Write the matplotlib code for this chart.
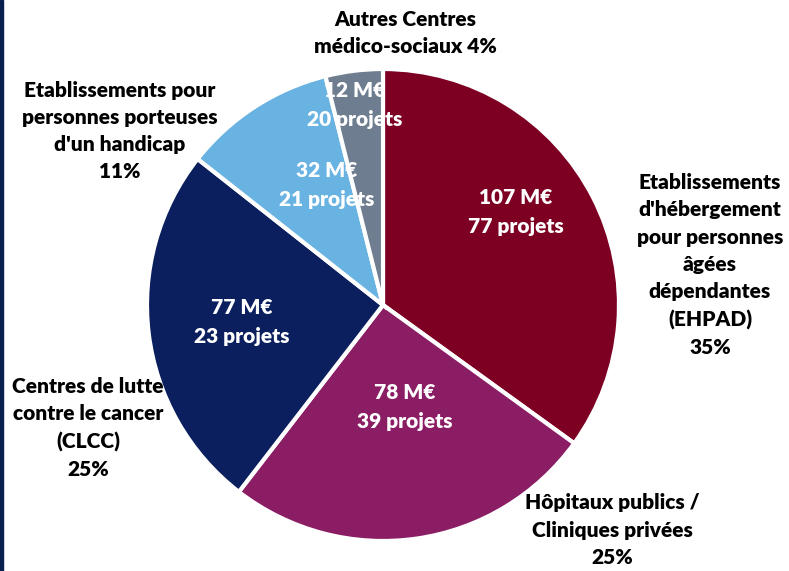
import matplotlib.pyplot as plt
from matplotlib.patches import Rectangle

# Data (M€ and number of projects per category)
categories = ["EHPAD", "Hopitaux", "CLCC", "Handicap", "Autres"]
montants = [107, 78, 77, 32, 12]
projets = [77, 39, 23, 21, 20]
colors = ["#7D0022", "#8A1D63", "#0B1F5E", "#69B3E3", "#6E7D8F"]
outer_labels = [
    "Etablissements\nd'hébergement\npour personnes\nâgées\ndépendantes\n(EHPAD)\n35%",
    "Hôpitaux publics /\nCliniques privées\n25%",
    "Centres de lutte\ncontre le cancer\n(CLCC)\n25%",
    "Etablissements pour\npersonnes porteuses\nd'un handicap\n11%",
    "Autres Centres\nmédico-sociaux 4%",
]

plt.rcParams['font.family'] = ['Lato', 'DejaVu Sans']

W, H = 789, 571
fig = plt.figure(figsize=(W / 100, H / 100), dpi=100)
ax = fig.add_axes([0, 0, 1, 1])

# pie, top-start, clockwise
cx, cy, r = 383, H - 305, 236
ax.pie(montants, colors=colors, startangle=90, counterclock=False,
       center=(cx, cy), radius=r, frame=True,
       wedgeprops=dict(edgecolor='white', linewidth=3))
ax.set_xlim(0, W)
ax.set_ylim(0, H)
ax.set_aspect('equal')
ax.axis('off')

# inner labels (pixel positions from the reference, y from top)
inner_pos = [(516, 212), (405, 407), (242, 322), (327, 185), (355, 105)]
for (x, y), m, p in zip(inner_pos, montants, projets):
    ax.text(x, H - y, f"{m} M€\n{p} projets", ha='center', va='center',
            color='white', fontsize=15, fontweight='heavy', linespacing=1.62)

# outer labels
outer_pos = [(710, 265), (612, 530), (88, 428), (120, 131), (405, 33)]
for (x, y), lab in zip(outer_pos, outer_labels):
    ax.text(x, H - y, lab, ha='center', va='center', color='black',
            fontsize=15, fontweight='heavy', linespacing=1.52)

# left border line
fig.patches.append(Rectangle((0, 0), 3 / W, 1, transform=fig.transFigure,
                             color='#0B1F4E', zorder=10))

fig.savefig('out.png', dpi=100)
